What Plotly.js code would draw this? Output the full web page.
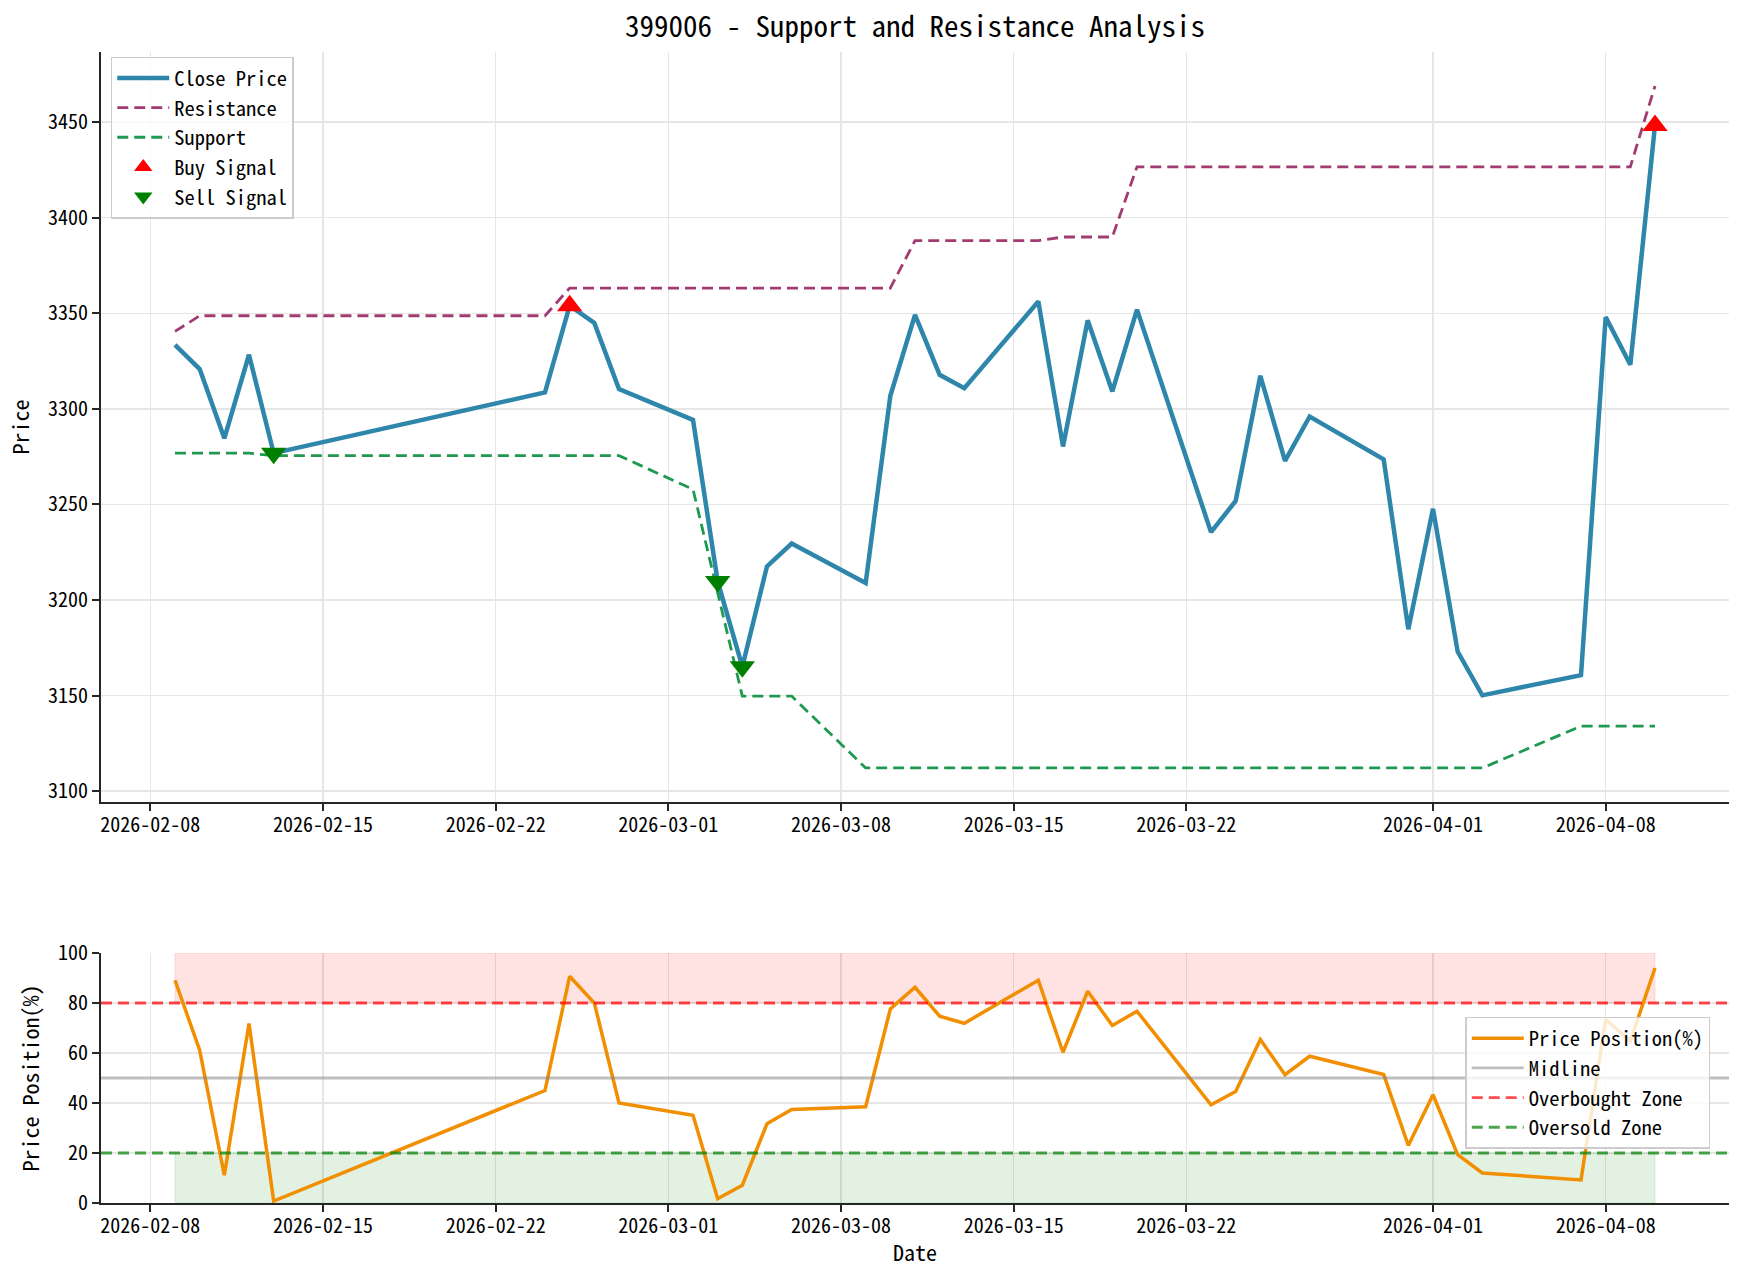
<!DOCTYPE html>
<html>
<head>
<meta charset="utf-8">
<script src="https://cdn.plot.ly/plotly-3.0.1.min.js"></script>
<style>
  html, body { margin: 0; padding: 0; background: #ffffff; }
  #chart { width: 1743px; height: 1281px; }
</style>
</head>
<body>
<div id="chart"></div>
<script>
// ---------------- data ----------------
const dates = ["2026-02-09","2026-02-10","2026-02-11","2026-02-12","2026-02-13",
  "2026-02-24","2026-02-25","2026-02-26","2026-02-27","2026-03-02","2026-03-03",
  "2026-03-04","2026-03-05","2026-03-06","2026-03-09","2026-03-10","2026-03-11",
  "2026-03-12","2026-03-13","2026-03-16","2026-03-17","2026-03-18","2026-03-19",
  "2026-03-20","2026-03-23","2026-03-24","2026-03-25","2026-03-26","2026-03-27",
  "2026-03-30","2026-03-31","2026-04-01","2026-04-02","2026-04-03","2026-04-07",
  "2026-04-08","2026-04-09","2026-04-10"];

const closePrice = [3333.5, 3320.8, 3284.6, 3328.3, 3276.8,
  3308.6, 3354.0, 3344.9, 3310.3, 3294.2, 3209.7,
  3165.1, 3217.6, 3229.5, 3208.9, 3306.8, 3349.2,
  3317.8, 3310.8, 3356.2, 3280.3, 3346.3, 3309.1,
  3351.9, 3235.5, 3251.8, 3317.3, 3272.8, 3296.0,
  3273.6, 3184.7, 3247.7, 3173.0, 3150.1, 3160.7,
  3348.0, 3323.1, 3448.3];

const resistance = [3340.5, 3348.7, 3348.7, 3348.7, 3348.7,
  3348.7, 3363.2, 3363.2, 3363.2, 3363.2, 3363.2,
  3363.2, 3363.2, 3363.2, 3363.2, 3363.2, 3388.0,
  3388.0, 3388.0, 3388.0, 3389.9, 3389.9, 3389.9,
  3426.6, 3426.6, 3426.6, 3426.6, 3426.6, 3426.6,
  3426.6, 3426.6, 3426.6, 3426.6, 3426.6, 3426.6,
  3426.6, 3426.6, 3468.9];

const support = [3276.8, 3276.8, 3276.8, 3276.8, 3275.5,
  3275.5, 3275.5, 3275.5, 3275.5, 3257.9, 3204.0,
  3149.7, 3149.7, 3149.7, 3112.1, 3112.1, 3112.1,
  3112.1, 3112.1, 3112.1, 3112.1, 3112.1, 3112.1,
  3112.1, 3112.1, 3112.1, 3112.1, 3112.1, 3112.1,
  3112.1, 3112.1, 3112.1, 3112.1, 3112.1, 3134.0,
  3134.0, 3134.0, 3134.0];

const pricePosition = [89.1, 61.1, 11.1, 71.8, 0.8,
  45.0, 90.7, 80.0, 40.0, 35.1, 1.7,
  7.1, 31.7, 37.4, 38.5, 77.6, 86.3,
  74.7, 71.9, 89.1, 60.3, 84.7, 71.0,
  76.7, 39.3, 44.6, 65.4, 51.3, 58.7,
  51.4, 23.0, 43.3, 19.3, 12.0, 9.2,
  73.4, 64.7, 94.0];

const buyDates = ["2026-02-25", "2026-04-10"];
const buyPrices = [3354.0, 3448.3];
const sellDates = ["2026-02-13", "2026-03-03", "2026-03-04"];
const sellPrices = [3276.8, 3209.7, 3165.1];

const xTickVals = ["2026-02-08","2026-02-15","2026-02-22","2026-03-01","2026-03-08",
  "2026-03-15","2026-03-22","2026-04-01","2026-04-08"];
const xTickText = ["2026-02-08","2026-02-15","2026-02-22","2026-03-01","2026-03-08",
  "2026-03-15","2026-03-22","2026-04-01","2026-04-08"];
const priceTicks = [3100, 3150, 3200, 3250, 3300, 3350, 3400, 3450];
const posTicks = [0, 20, 40, 60, 80, 100];

const MIDLINE = 50;
const OVERBOUGHT = 80;
const OVERSOLD = 20;
const POS_MAX = 100;
const POS_MIN = 0;

const xRange = ["2026-02-06", "2026-04-13"];
const priceRange = [3094.3, 3486.7];

// ---------------- style ----------------
const FONT = "'Noto Sans Mono CJK SC', 'Noto Sans Mono CJK JP', 'DejaVu Sans Mono', monospace";
const AXIS_COLOR = "#262626";
const GRID = "#E6E6E6";

const traces = [
  { x: dates, y: closePrice, type: "scatter", mode: "lines", name: "Close Price",
    line: { color: "#2E86AB", width: 4.5 }, xaxis: "x", yaxis: "y", legend: "legend" },
  { x: dates, y: resistance, type: "scatter", mode: "lines", name: "Resistance",
    line: { color: "#A23B72", width: 2.8, dash: "11px,6px" }, xaxis: "x", yaxis: "y", legend: "legend" },
  { x: dates, y: support, type: "scatter", mode: "lines", name: "Support",
    line: { color: "#1F9950", width: 2.8, dash: "11px,6px" }, xaxis: "x", yaxis: "y", legend: "legend" },
  { x: buyDates, y: buyPrices, type: "scatter", mode: "markers", name: "Buy Signal",
    marker: { symbol: "triangle-up", size: 22, color: "#FF0000", line: { width: 0 } },
    xaxis: "x", yaxis: "y", legend: "legend" },
  { x: sellDates, y: sellPrices, type: "scatter", mode: "markers", name: "Sell Signal",
    marker: { symbol: "triangle-down", size: 22, color: "#008000", line: { width: 0 } },
    xaxis: "x", yaxis: "y", legend: "legend" },
  { x: dates, y: pricePosition, type: "scatter", mode: "lines", name: "Price Position(%)",
    line: { color: "#F18F01", width: 3.5 }, xaxis: "x2", yaxis: "y2", legend: "legend2", legendrank: 1 }
];

const shapes = [
  { type: "rect", xref: "x2", yref: "y2", x0: dates[0], x1: dates[dates.length - 1],
    y0: OVERBOUGHT, y1: POS_MAX, fillcolor: "rgba(255,0,0,0.11)",
    line: { color: "rgba(255,0,0,0.12)", width: 1 }, layer: "between" },
  { type: "rect", xref: "x2", yref: "y2", x0: dates[0], x1: dates[dates.length - 1],
    y0: POS_MIN, y1: OVERSOLD, fillcolor: "rgba(0,128,0,0.11)",
    line: { color: "rgba(0,128,0,0.12)", width: 1 }, layer: "between" },
  { type: "line", xref: "x2 domain", yref: "y2", x0: 0, x1: 1, y0: MIDLINE, y1: MIDLINE,
    line: { color: "rgba(128,128,128,0.5)", width: 2.8 }, showlegend: true,
    name: "Midline", legend: "legend2", legendrank: 2 },
  { type: "line", xref: "x2 domain", yref: "y2", x0: 0, x1: 1, y0: OVERBOUGHT, y1: OVERBOUGHT,
    line: { color: "rgba(255,0,0,0.7)", width: 2.8, dash: "11px,6px" }, showlegend: true,
    name: "Overbought Zone", legend: "legend2", legendrank: 3 },
  { type: "line", xref: "x2 domain", yref: "y2", x0: 0, x1: 1, y0: OVERSOLD, y1: OVERSOLD,
    line: { color: "rgba(0,128,0,0.7)", width: 2.8, dash: "11px,6px" }, showlegend: true,
    name: "Oversold Zone", legend: "legend2", legendrank: 4 }
];

function xAxisCfg(anchor, titleText) {
  const a = {
    type: "date", range: xRange, anchor: anchor,
    tickmode: "array", tickvals: xTickVals, ticktext: xTickText,
    showgrid: true, gridcolor: GRID, gridwidth: 1.5,
    showline: true, linecolor: AXIS_COLOR, linewidth: 2, mirror: false,
    ticks: "outside", ticklen: 7, tickwidth: 2, tickcolor: AXIS_COLOR,
    ticklabelstandoff: -3,
    tickfont: { family: FONT, size: 20, color: "#000" },
    zeroline: false, fixedrange: true
  };
  if (titleText) a.title = { text: titleText, font: { family: FONT, size: 22, color: "#000" }, standoff: 8 };
  return a;
}
function yAxisCfg(domain, range, tickvals, titleText) {
  return {
    domain: domain, range: range, tickmode: "array", tickvals: tickvals,
    showgrid: true, gridcolor: GRID, gridwidth: 1.5,
    showline: true, linecolor: AXIS_COLOR, linewidth: 2, mirror: false,
    ticks: "outside", ticklen: 7, tickwidth: 2, tickcolor: AXIS_COLOR,
    tickfont: { family: FONT, size: 20, color: "#000" },
    zeroline: false, fixedrange: true,
    title: { text: titleText, font: { family: FONT, size: 22, color: "#000" }, standoff: 12 }
  };
}

const layout = {
  width: 1743, height: 1281,
  margin: { l: 101, r: 14, t: 52, b: 78 },
  paper_bgcolor: "#ffffff", plot_bgcolor: "#ffffff",
  font: { family: FONT, color: "#000" },
  title: { text: "399006 - Support and Resistance Analysis",
    font: { family: FONT, size: 29, color: "#000" },
    x: 0.5, xref: "paper", xanchor: "center", y: 0.979, yanchor: "middle" },
  xaxis: xAxisCfg("y", null),
  yaxis: yAxisCfg([0.3484, 1], priceRange, priceTicks, "Price"),
  xaxis2: xAxisCfg("y2", "Date"),
  yaxis2: yAxisCfg([0, 0.2172], [POS_MIN, POS_MAX], posTicks, "Price Position(%)"),
  shapes: shapes,
  legend: { x: 0.006, y: 0.996, xanchor: "left", yanchor: "top",
    bgcolor: "rgba(255,255,255,0.8)", bordercolor: "#CCCCCC", borderwidth: 1.5,
    font: { family: FONT, size: 20.5, color: "#000" }, itemwidth: 52, tracegroupgap: 0,
    traceorder: "normal" },
  legend2: { x: 0.838, y: 0.1616, xanchor: "left", yanchor: "top",
    bgcolor: "rgba(255,255,255,0.8)", bordercolor: "#CCCCCC", borderwidth: 1.5,
    font: { family: FONT, size: 20.5, color: "#000" }, itemwidth: 52, tracegroupgap: 0,
    traceorder: "normal" },
  showlegend: true
};

Plotly.newPlot("chart", traces, layout, { staticPlot: true, displayModeBar: false });
</script>
</body>
</html>
